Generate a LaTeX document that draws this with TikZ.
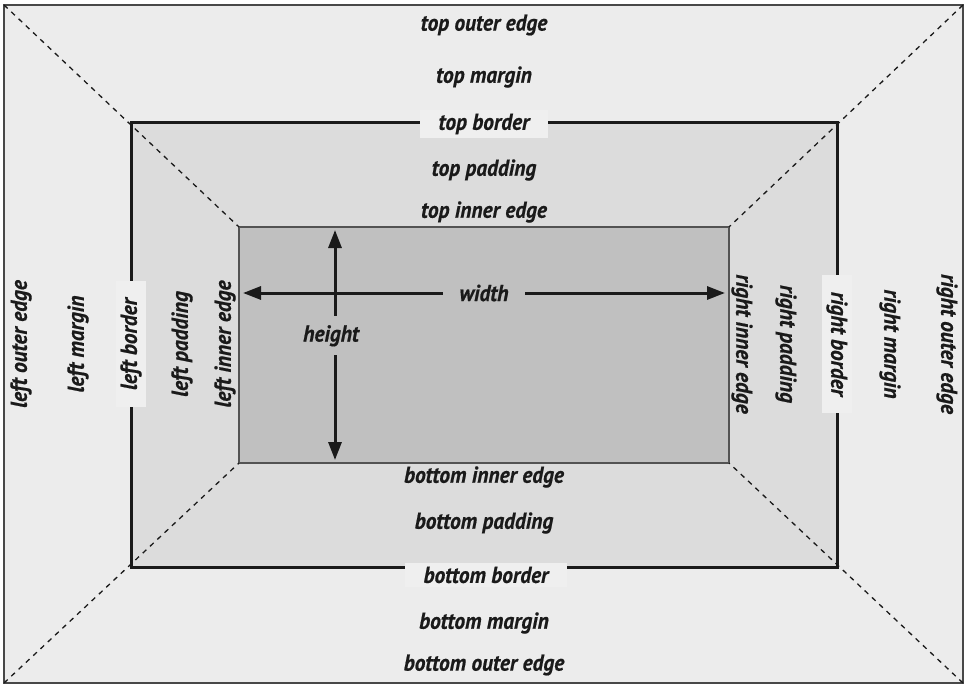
\documentclass[tikz,border=0pt]{standalone}
\usepackage{fontspec}
\setmainfont{PT Sans}[FakeStretch=0.93, BoldItalicFeatures={FakeBold=0.6}]
\usetikzlibrary{arrows.meta,positioning}
\definecolor{marginfill}{HTML}{ECECEC}
\definecolor{padfill}{HTML}{DCDCDC}
\definecolor{contentfill}{HTML}{C0C0C0}
\definecolor{ink}{HTML}{1A1A1A}
\tikzset{
  lbl/.style={font=\fontsize{23}{25}\selectfont\bfseries\itshape, text=ink, inner sep=1pt},
  gap/.style={lbl, fill=marginfill!85!white, inner xsep=19pt, inner ysep=4pt},
  dim/.style={line width=3pt, draw=ink, {Triangle[length=18pt,width=13pt]}-{Triangle[length=18pt,width=13pt]}}
}

\begin{document}
\begin{tikzpicture}[x=1pt,y=-1pt]
\useasboundingbox (0,0) rectangle (970,696);
\fill[white] (0,0) rectangle (970,696);

%boxes
\draw[fill=marginfill, draw=ink!80, line width=1.5pt] (4,5) coordinate (oTL) rectangle (963,683) coordinate (oBR);
\coordinate (oTR) at (963,5); \coordinate (oBL) at (4,683);
\fill[padfill] (131,122) coordinate (bTL) rectangle (837,567) coordinate (bBR);
\coordinate (bTR) at (837,122); \coordinate (bBL) at (131,567);
\draw[fill=contentfill, draw=ink!75, line width=1.5pt] (239,227) coordinate (iTL) rectangle (729,463) coordinate (iBR);
\coordinate (iTR) at (729,227); \coordinate (iBL) at (239,463);

%corner lines
\foreach \c in {TL,TR,BL,BR} {\draw[ink, line width=1.3pt, dash pattern=on 5pt off 5pt] (o\c) -- (i\c);}
\draw[ink, line width=3pt] (bTL) rectangle (bBR);

%top and bottom
\foreach \y/\t/\n in {25/top outer edge/tO, 77/top margin/tM, 170/top padding/tP, 212/top inner edge/tI,
  477/bottom inner edge/bI, 523/bottom padding/bP, 623/bottom margin/bM, 665/bottom outer edge/bO}
  {\node[lbl] (\n) at (484,\y) {\t};}
\node[gap] (tB) at (484,124) {top border};
\node[gap] (bB) at (486,575) {bottom border};

%left and right
\foreach \x/\t/\n in {21/outer edge/lO, 78/margin/lM, 182/padding/lP, 225/inner edge/lI}
  {\node[lbl, rotate=90] (\n) at (\x,344) {left \t};}
\foreach \x/\t/\n in {742/inner edge/rI, 786/padding/rP, 890/margin/rM, 947/outer edge/rO}
  {\node[lbl, rotate=-90] (\n) at (\x,344) {right \t};}
\node[gap, rotate=90, inner xsep=17pt] (lB) at (131,344) {left border};
\node[gap, rotate=-90, inner xsep=17pt] (rB) at (837,344) {right border};

%width and height
\coordinate (wl) at (243,293); \coordinate (wr) at (725,293);
\coordinate (ht) at (335,230); \coordinate (hb) at (335,460);
\draw[dim] (wl) -- node[lbl, fill=contentfill, inner xsep=17pt, inner ysep=3pt] (wlab) {width} (wr);
\draw[dim] (ht) -- node[lbl, pos=0.46, fill=contentfill, inner xsep=3pt, inner ysep=9pt, xshift=-4pt] (hlab) {height} (hb);
\end{tikzpicture}
\end{document}
